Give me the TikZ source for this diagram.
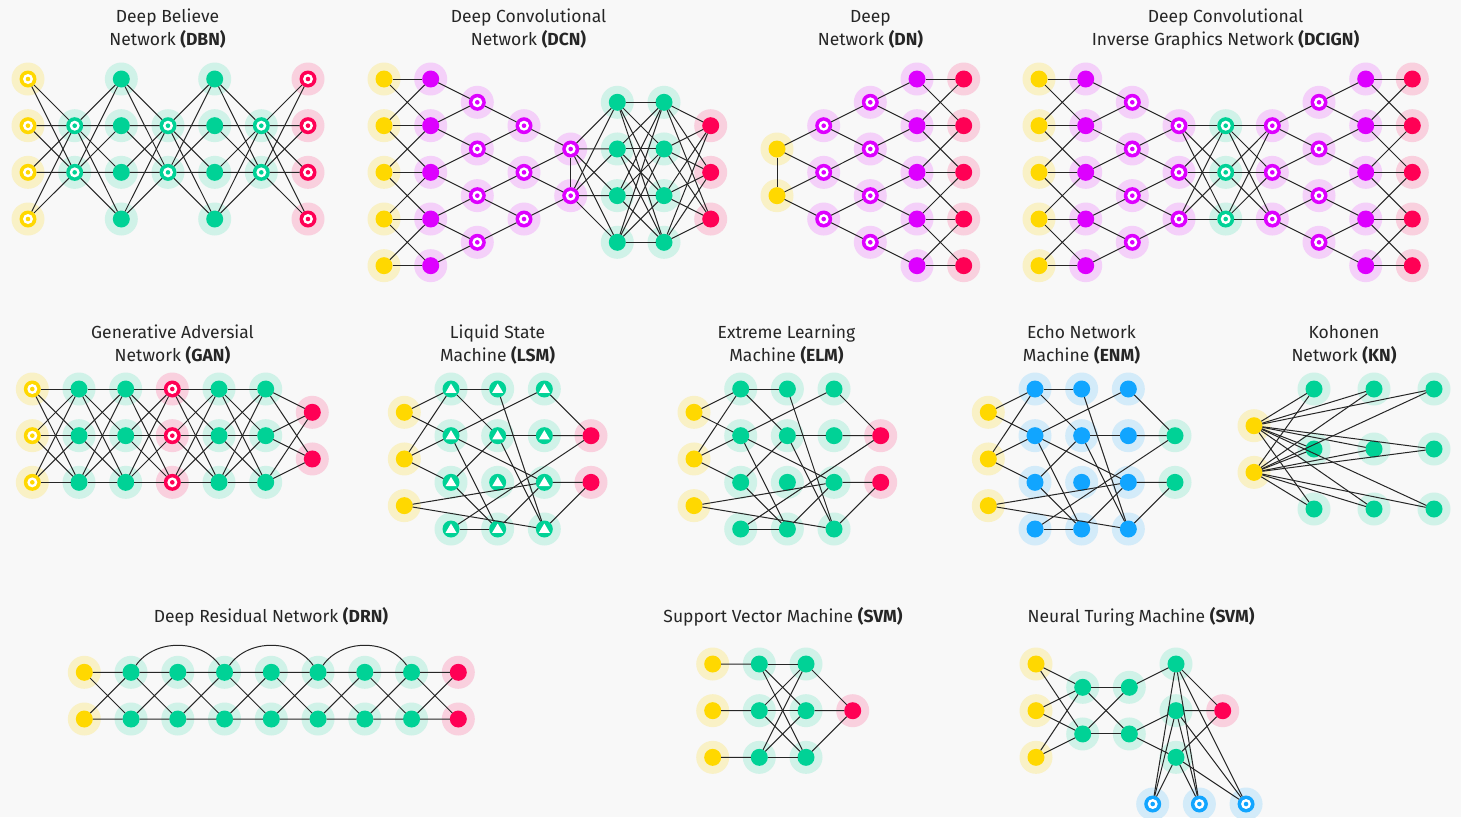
\documentclass[tikz,border=0pt]{standalone}
\usepackage{fontspec}
\setmainfont{Fira Sans}
\pgfdeclarelayer{bg}
\pgfsetlayers{bg,main}
\definecolor{bgc}{HTML}{F8F8F8}
\definecolor{yel}{HTML}{FFD800}
\definecolor{grn}{HTML}{00D296}
\definecolor{rd}{HTML}{FF0055}
\definecolor{mag}{HTML}{DD00FF}
\definecolor{blu}{HTML}{11A5FF}
\colorlet{yelh}{yel!20!bgc}
\colorlet{grnh}{grn!16!bgc}
\colorlet{rdh}{rd!16!bgc}
\colorlet{magh}{mag!16!bgc}
\colorlet{bluh}{blu!16!bgc}
\tikzset{
  fn/.style={circle, fill=#1, draw=none, minimum size=17pt, inner sep=0pt, outer sep=0pt},
  cn/.style={line width=1pt, draw=black!85},
  ttl/.style={align=center, font=\fontsize{17.5}{23}\selectfont, text=black!85},
}
% filled node with halo
\newcommand\nF[3]{\begin{pgfonlayer}{bg}\fill[#3h] #2 circle (16.5pt);\end{pgfonlayer}\node[fn=#3] (#1) at #2 {};}
% ring node
\newcommand\nR[3]{\nF{#1}{#2}{#3}\fill[white] (#1) circle (5pt);\fill[#3] (#1) circle (2.3pt);}
% triangle node
\newcommand\nT[2]{\nF{#1}{#2}{grn}\fill[white,shift={(#1)}] (0,-5.5) -- (5.5,3.8) -- (-5.5,3.8) -- cycle;}
\newcommand\nG[2]{\nF{#1}{#2}{grn}}
\newcommand\nB[2]{\nF{#1}{#2}{blu}}
% connection helpers
\newcommand\cFull[4]{\foreach \i in {#2}{\foreach \j in {#4}{\draw[cn] (#1\i)--(#3\j);}}}
\newcommand\cBand[3]{\foreach \i in {0,...,#3}{\draw[cn] (#1\i)--(#2\i);}%
  \foreach \i in {1,...,#3}{\pgfmathtruncatemacro\j{\i-1}\draw[cn] (#1\i)--(#2\j) (#1\j)--(#2\i);}}
\newcommand\cFan[3]{\foreach \k in {0,...,#3}{\pgfmathtruncatemacro\kk{\k+1}\draw[cn] (#1\k)--(#2\k) (#1\k)--(#2\kk);}}
% LSM-like network
\newcommand\lsmnet[4]{%
  \begin{scope}[xshift=#2]
  \foreach \r in {0,1,2}{\nF{#1Y\r}{(404.3,412.3+\r*46.667)}{yel}}
  \foreach \c in {0,1,2}{\foreach \r in {0,...,3}{#3{#1T\c\r}{(451+\c*46.667,389+\r*46.667)}}}
  \foreach \r in {0,1}{\nF{#1R\r}{(591,435.7+\r*46.667)}{#4}}
  \foreach \a/\b in {Y0/T00,Y0/T01,Y1/T00,Y1/T01,Y1/T02,Y2/T22,Y2/T23,T00/T10,T00/T11,T10/T23,
     T20/R0,T20/T01,T01/T22,T01/T13,T11/T21,T21/R0,T11/T02,T11/T23,T02/T13,T22/R1,T22/T13,
     R0/T03,T03/T13,T23/R1}{\draw[cn] (#1\a)--(#1\b);}
  \end{scope}}
\begin{document}
\begin{tikzpicture}[x=1pt,y=-1pt]
\begin{pgfonlayer}{bg}\fill[bgc] (0,0) rectangle (1461,817);\end{pgfonlayer}
\useasboundingbox (0,0) rectangle (1461,817);

% ---------- titles ----------
\node[ttl] (tDBN) at (167.5,29) {Deep Believe\\Network \textbf{(DBN)}};
\node[ttl] (tDCN) at (528.5,29) {Deep Convolutional\\Network \textbf{(DCN)}};
\node[ttl] (tDN) at (870.5,29) {Deep\\Network \textbf{(DN)}};
\node[ttl] (tDCIGN) at (1225.5,29) {Deep Convolutional\\Inverse Graphics Network \textbf{(DCIGN)}};
\node[ttl] (tGAN) at (172.5,344.5) {Generative Adversial\\Network \textbf{(GAN)}};
\node[ttl] (tLSM) at (497.5,344.5) {Liquid State\\Machine \textbf{(LSM)}};
\node[ttl] (tELM) at (786.5,344.5) {Extreme Learning\\Machine \textbf{(ELM)}};
\node[ttl] (tENM) at (1081.5,344.5) {Echo Network\\Machine \textbf{(ENM)}};
\node[ttl] (tKN) at (1344,344.5) {Kohonen\\Network \textbf{(KN)}};
\node[ttl] (tDRN) at (271,617) {Deep Residual Network \textbf{(DRN)}};
\node[ttl] (tSVM) at (783,617) {Support Vector Machine \textbf{(SVM)}};
\node[ttl] (tNTM) at (1141,617) {Neural Turing Machine \textbf{(SVM)}};

% ---------- DBN ----------
\foreach \r in {0,...,3}{\nR{dbnA\r}{(28,79+\r*46.667)}{yel}}
\foreach \r in {0,1}{\nR{dbnB\r}{(74.7,125.7+\r*46.667)}{grn}}
\foreach \r in {0,...,3}{\nF{dbnC\r}{(121.3,79+\r*46.667)}{grn}}
\foreach \r in {0,1}{\nR{dbnD\r}{(168,125.7+\r*46.667)}{grn}}
\foreach \r in {0,...,3}{\nF{dbnE\r}{(214.7,79+\r*46.667)}{grn}}
\foreach \r in {0,1}{\nR{dbnF\r}{(261.3,125.7+\r*46.667)}{grn}}
\foreach \r in {0,...,3}{\nR{dbnG\r}{(308,79+\r*46.667)}{rd}}
\cFull{dbnA}{0,...,3}{dbnB}{0,1}
\cFull{dbnB}{0,1}{dbnC}{0,...,3}
\cFull{dbnC}{0,...,3}{dbnD}{0,1}
\cFull{dbnD}{0,1}{dbnE}{0,...,3}
\cFull{dbnE}{0,...,3}{dbnF}{0,1}
\cFull{dbnF}{0,1}{dbnG}{0,...,3}

% ---------- DCN ----------
\foreach \r in {0,...,4}{\nF{dcnA\r}{(384,79+\r*46.667)}{yel}}
\foreach \r in {0,...,4}{\nF{dcnB\r}{(430.7,79+\r*46.667)}{mag}}
\foreach \r in {0,...,3}{\nR{dcnC\r}{(477.3,102.3+\r*46.667)}{mag}}
\foreach \r in {0,...,2}{\nR{dcnD\r}{(524,125.7+\r*46.667)}{mag}}
\foreach \r in {0,1}{\nR{dcnE\r}{(570.7,149+\r*46.667)}{mag}}
\foreach \r in {0,...,3}{\nF{dcnF\r}{(617.3,102.3+\r*46.667)}{grn}}
\foreach \r in {0,...,3}{\nF{dcnG\r}{(664,102.3+\r*46.667)}{grn}}
\foreach \r in {0,...,2}{\nF{dcnH\r}{(710.7,125.7+\r*46.667)}{rd}}
\cBand{dcnA}{dcnB}{4}
\cFan{dcnC}{dcnB}{3}
\cFan{dcnD}{dcnC}{2}
\cFan{dcnE}{dcnD}{1}
\draw[cn] (dcnE0)--(dcnE1);
\cFull{dcnE}{0,1}{dcnF}{0,...,3}
\cFull{dcnF}{0,...,3}{dcnG}{0,...,3}
\cFull{dcnG}{0,...,3}{dcnH}{0,...,2}

% ---------- DN ----------
\foreach \r in {0,1}{\nF{dnA\r}{(777,149+\r*46.667)}{yel}}
\foreach \r in {0,...,2}{\nR{dnB\r}{(823.7,125.7+\r*46.667)}{mag}}
\foreach \r in {0,...,3}{\nR{dnC\r}{(870.3,102.3+\r*46.667)}{mag}}
\foreach \r in {0,...,4}{\nF{dnD\r}{(917,79+\r*46.667)}{mag}}
\foreach \r in {0,...,4}{\nF{dnE\r}{(963.7,79+\r*46.667)}{rd}}
\draw[cn] (dnA0)--(dnA1);
\cFan{dnA}{dnB}{1}
\cFan{dnB}{dnC}{2}
\cFan{dnC}{dnD}{3}
\cBand{dnD}{dnE}{4}

% ---------- DCIGN ----------
\foreach \r in {0,...,4}{\nF{dciA\r}{(1039,79+\r*46.667)}{yel}}
\foreach \r in {0,...,4}{\nF{dciB\r}{(1085.7,79+\r*46.667)}{mag}}
\foreach \r in {0,...,3}{\nR{dciC\r}{(1132.3,102.3+\r*46.667)}{mag}}
\foreach \r in {0,...,2}{\nR{dciD\r}{(1179,125.7+\r*46.667)}{mag}}
\foreach \r in {0,...,2}{\nR{dciE\r}{(1225.7,125.7+\r*46.667)}{grn}}
\foreach \r in {0,...,2}{\nR{dciF\r}{(1272.3,125.7+\r*46.667)}{mag}}
\foreach \r in {0,...,3}{\nR{dciG\r}{(1319,102.3+\r*46.667)}{mag}}
\foreach \r in {0,...,4}{\nF{dciH\r}{(1365.7,79+\r*46.667)}{mag}}
\foreach \r in {0,...,4}{\nF{dciI\r}{(1412.3,79+\r*46.667)}{rd}}
\cBand{dciA}{dciB}{4}
\cFan{dciC}{dciB}{3}
\cFan{dciD}{dciC}{2}
\cFull{dciD}{0,1,2}{dciE}{0,1,2}
\cFull{dciE}{0,1,2}{dciF}{0,1,2}
\cFan{dciF}{dciG}{2}
\cFan{dciG}{dciH}{3}
\cBand{dciH}{dciI}{4}

% ---------- GAN ----------
\foreach \r in {0,1,2}{\nR{ganA\r}{(32.3,389+\r*46.667)}{yel}}
\foreach \r in {0,1,2}{\nF{ganB\r}{(79,389+\r*46.667)}{grn}}
\foreach \r in {0,1,2}{\nF{ganC\r}{(125.7,389+\r*46.667)}{grn}}
\foreach \r in {0,1,2}{\nR{ganD\r}{(172.3,389+\r*46.667)}{rd}}
\foreach \r in {0,1,2}{\nF{ganE\r}{(219,389+\r*46.667)}{grn}}
\foreach \r in {0,1,2}{\nF{ganF\r}{(265.7,389+\r*46.667)}{grn}}
\foreach \r in {0,1}{\nF{ganG\r}{(312.3,412.3+\r*46.667)}{rd}}
\cFull{ganA}{0,1,2}{ganB}{0,1,2}
\cFull{ganB}{0,1,2}{ganC}{0,1,2}
\cFull{ganC}{0,1,2}{ganD}{0,1,2}
\cFull{ganD}{0,1,2}{ganE}{0,1,2}
\cFull{ganE}{0,1,2}{ganF}{0,1,2}
\cFull{ganF}{0,1,2}{ganG}{0,1}

% ---------- LSM / ELM / ENM ----------
\lsmnet{lsm}{0pt}{\nT}{rd}
\lsmnet{elm}{289.7pt}{\nG}{rd}
\lsmnet{enm}{584pt}{\nB}{grn}

% ---------- KN ----------
\foreach \r in {0,1}{\nF{knY\r}{(1254,425.7+\r*46.667)}{yel}}
\foreach \c in {0,1,2}{\foreach \r in {0,1,2}{\nF{knG\c\r}{(1314+\c*60,389+\r*60)}{grn}}}
\foreach \y in {0,1}{\foreach \c in {0,1,2}{\foreach \r in {0,1,2}{\draw[cn] (knY\y)--(knG\c\r);}}}

% ---------- DRN ----------
\nF{drnT0}{(84.3,672.3)}{yel}
\nF{drnB0}{(84.3,719)}{yel}
\foreach \c in {1,...,7}{\nF{drnT\c}{(84.3+\c*46.75,672.3)}{grn}\nF{drnB\c}{(84.3+\c*46.75,719)}{grn}}
\nF{drnT8}{(458.3,672.3)}{rd}
\nF{drnB8}{(458.3,719)}{rd}
\foreach \c in {0,...,7}{\pgfmathtruncatemacro\d{\c+1}%
  \draw[cn] (drnT\c)--(drnT\d) (drnB\c)--(drnB\d) (drnT\c)--(drnB\d) (drnB\c)--(drnT\d);}
\draw[cn] (drnT1) to[bend left=55] (drnT3);
\draw[cn] (drnT3) to[bend left=55] (drnT5);
\draw[cn] (drnT5) to[bend left=55] (drnT7);

% ---------- SVM ----------
\foreach \r in {0,1,2}{\nF{svmY\r}{(712.7,664+\r*46.667)}{yel}}
\foreach \r in {0,1,2}{\nF{svmA\r}{(759.3,664+\r*46.667)}{grn}}
\foreach \r in {0,1,2}{\nF{svmB\r}{(806,664+\r*46.667)}{grn}}
\nF{svmR}{(852.7,710.7)}{rd}
\foreach \r in {0,1,2}{\draw[cn] (svmY\r)--(svmA\r) (svmB\r)--(svmR);}
\cFull{svmA}{0,1,2}{svmB}{0,1,2}

% ---------- NTM ----------
\foreach \r in {0,1,2}{\nF{ntmY\r}{(1036,664+\r*46.667)}{yel}}
\foreach \r in {0,1}{\nF{ntmA\r}{(1082.7,687.3+\r*46.667)}{grn}}
\foreach \r in {0,1}{\nF{ntmB\r}{(1129.3,687.3+\r*46.667)}{grn}}
\foreach \r in {0,1,2}{\nF{ntmC\r}{(1176,664+\r*46.667)}{grn}}
\nF{ntmR}{(1222.7,710.7)}{rd}
\foreach \c in {0,1,2}{\nR{ntmD\c}{(1152.7+\c*46.667,804)}{blu}}
\cFull{ntmY}{0,1,2}{ntmA}{0,1}
\cFull{ntmA}{0,1}{ntmB}{0,1}
\draw[cn] (ntmB0)--(ntmC0) (ntmB1)--(ntmC1) (ntmB1)--(ntmC2);
\foreach \r in {0,1,2}{\draw[cn] (ntmC\r)--(ntmR);}
\cFull{ntmC}{0,1,2}{ntmD}{0,1,2}
\end{tikzpicture}
\end{document}
